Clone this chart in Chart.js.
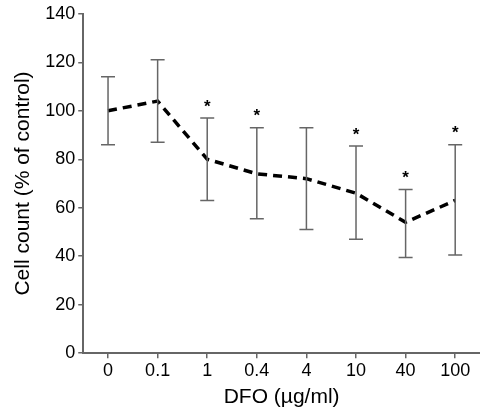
<!DOCTYPE html>
<html>
<head>
<meta charset="utf-8">
<script src="https://cdn.jsdelivr.net/npm/chart.js@4"></script>
<style>
  html, body { margin: 0; padding: 0; background: #fff; }
</style>
</head>
<body>
<canvas id="dfo_chart" width="480" height="414"></canvas>
<script>
const doses = ['0', '0.1', '1', '0.4', '4', '10', '40', '100'];
const cellCount = [100, 104, 80, 74, 72, 66, 54, 63];
const errUpper = [114, 121, 97, 93, 93, 85.5, 67.5, 86];
const errLower = [86, 87, 63, 55.5, 51, 47, 39.5, 40.5];
const significant = [false, false, true, true, false, true, true, true];
const yTicks = [0, 20, 40, 60, 80, 100, 120, 140];

const axisGray = '#666';

// error bars + asterisks, placed through the chart's own scales
const errorBars = {
    id: 'errorBars',
    afterDatasetsDraw(chart) {
        const ctx = chart.ctx;
        const x = chart.scales.x;
        const y = chart.scales.y;
        ctx.save();
        ctx.strokeStyle = axisGray;
        ctx.lineWidth = 1.5;
        ctx.fillStyle = '#000';
        ctx.font = 'bold 17px "Liberation Sans", Arial, sans-serif';
        ctx.textAlign = 'center';
        ctx.textBaseline = 'middle';
        for (let i = 0; i < doses.length; i++) {
            const px = x.getPixelForValue(i);
            const top = y.getPixelForValue(errUpper[i]);
            const bot = y.getPixelForValue(errLower[i]);
            ctx.beginPath();
            ctx.moveTo(px, top);
            ctx.lineTo(px, bot);
            ctx.moveTo(px - 7, top);
            ctx.lineTo(px + 7, top);
            ctx.moveTo(px - 7, bot);
            ctx.lineTo(px + 7, bot);
            ctx.stroke();
            if (significant[i]) {
                ctx.fillText('*', px, top - 11);
            }
        }
        ctx.restore();
    }
};

const ctx1 = document.getElementById('dfo_chart');

const myChart1 = new Chart(ctx1, {
    type: 'line',
    data: {
        labels: doses,
        datasets: [{
            data: cellCount,
            borderColor: '#000',
            borderWidth: 3.5,
            borderDash: [9, 6],
            pointRadius: 0,
            fill: false,
            tension: 0
        }]
    },
    options: {
        responsive: false,
        animation: false,
        layout: {
            padding: { top: 10, right: 0, left: 11, bottom: 4 }
        },
        plugins: {
            legend: { display: false },
            tooltip: { enabled: false }
        },
        scales: {
            x: {
                offset: true,
                grid: {
                    drawOnChartArea: false,
                    color: axisGray,
                    lineWidth: 1.5,
                    tickLength: 5
                },
                border: { color: axisGray, width: 2 },
                ticks: {
                    color: '#000',
                    padding: 2,
                    font: { family: '"Liberation Sans", Arial, sans-serif', size: 18 }
                },
                title: {
                    display: true,
                    text: 'DFO (µg/ml)',
                    color: '#000',
                    padding: { top: 1, bottom: 0 },
                    font: { family: '"Liberation Sans", Arial, sans-serif', size: 21 }
                }
            },
            y: {
                min: 0,
                max: 140,
                afterBuildTicks(scale) {
                    scale.ticks = yTicks.map(v => ({ value: v }));
                },
                grid: {
                    drawOnChartArea: false,
                    color: axisGray,
                    lineWidth: 1.5,
                    tickLength: 5
                },
                border: { color: axisGray, width: 2 },
                ticks: {
                    color: '#000',
                    padding: 3,
                    font: { family: '"Liberation Sans", Arial, sans-serif', size: 18 }
                },
                title: {
                    display: true,
                    text: 'Cell count (% of control)',
                    color: '#000',
                    padding: { top: 0, bottom: 6 },
                    font: { family: '"Liberation Sans", Arial, sans-serif', size: 21 }
                }
            }
        }
    },
    plugins: [errorBars]
});
</script>
</body>
</html>
